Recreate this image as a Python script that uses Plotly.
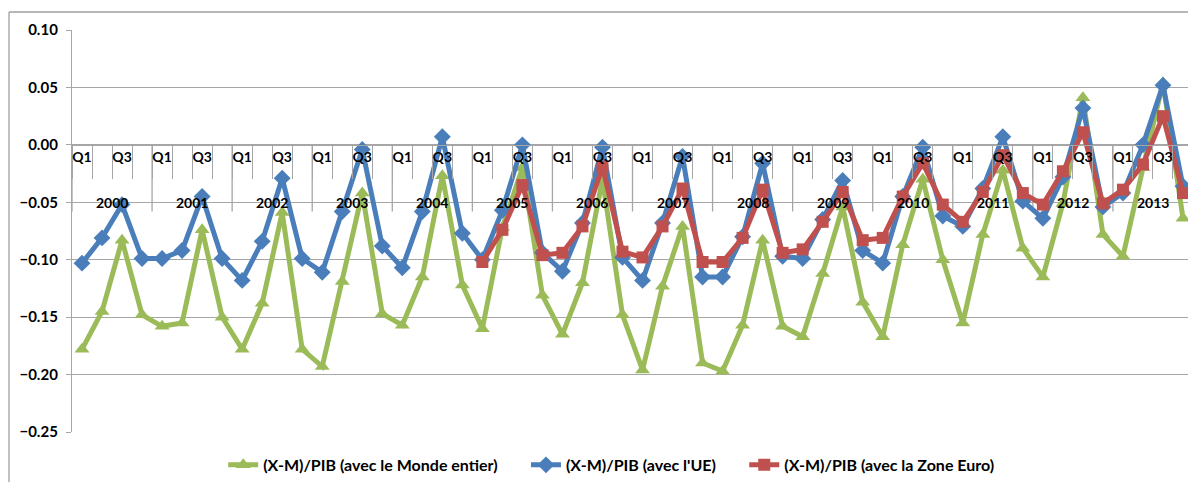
import plotly.graph_objects as go

years = ["2000", "2001", "2002", "2003", "2004", "2005", "2006",
         "2007", "2008", "2009", "2010", "2011", "2012", "2013"]
quarters = ["Q1", "Q2", "Q3", "Q4"]
quarter_labels = ["Q1", "", "Q3", ""]

monde = [-0.178, -0.145, -0.083, -0.148, -0.158, -0.155, -0.074, -0.150,
         -0.178, -0.138, -0.059, -0.178, -0.193, -0.119, -0.042, -0.147,
         -0.157, -0.115, -0.027, -0.122, -0.160, -0.072, -0.020, -0.131,
         -0.165, -0.120, -0.030, -0.148, -0.196, -0.123, -0.071, -0.190,
         -0.197, -0.157, -0.083, -0.158, -0.167, -0.112, -0.054, -0.137,
         -0.167, -0.087, -0.030, -0.100, -0.155, -0.078, -0.022, -0.090,
         -0.115, -0.051, 0.041, -0.078, -0.097, -0.020, 0.054, -0.064]

ue = [-0.103, -0.081, -0.052, -0.099, -0.099, -0.092, -0.045, -0.099,
      -0.118, -0.084, -0.029, -0.099, -0.111, -0.058, -0.004, -0.088,
      -0.107, -0.058, 0.007, -0.077, -0.100, -0.057, 0.000, -0.094,
      -0.110, -0.068, -0.002, -0.098, -0.118, -0.068, -0.010, -0.115,
      -0.115, -0.080, -0.016, -0.097, -0.099, -0.065, -0.031, -0.092,
      -0.103, -0.045, -0.002, -0.062, -0.071, -0.038, 0.007, -0.049,
      -0.064, -0.028, 0.032, -0.054, -0.042, 0.000, 0.052, -0.036]

zone_euro = [None, None, None, None, None, None, None, None,
             None, None, None, None, None, None, None, None,
             None, None, None, None, -0.102, -0.074, -0.035, -0.096,
             -0.094, -0.071, -0.019, -0.093, -0.098, -0.071, -0.038, -0.102,
             -0.102, -0.081, -0.039, -0.094, -0.091, -0.067, -0.041, -0.083,
             -0.081, -0.045, -0.016, -0.052, -0.067, -0.041, -0.009, -0.042,
             -0.052, -0.023, 0.011, -0.051, -0.039, -0.017, 0.025, -0.042]

yticks = [0.10, 0.05, 0.00, -0.05, -0.10, -0.15, -0.20, -0.25]

series_names = ["(X-M)/PIB (avec le Monde entier)",
                "(X-M)/PIB (avec l'UE)",
                "(X-M)/PIB (avec la Zone Euro)"]

categories = [y + " " + q for y in years for q in quarters]
ticktext = [quarter_labels[i % 4] for i in range(len(categories))]

GREEN = "#9bbb59"
BLUE = "#4a7ebb"
RED = "#c0504d"
GRID = "#a6a6a6"
FONT = "Lato"
PAD = "\u00a0" * 6

fig = go.Figure()
fig.add_trace(go.Scatter(
    x=categories, y=monde, mode="lines+markers",
    name=series_names[0] + PAD,
    line=dict(color=GREEN, width=5),
    marker=dict(symbol="triangle-up", size=13, color=GREEN)))
fig.add_trace(go.Scatter(
    x=categories, y=ue, mode="lines+markers",
    name=series_names[1] + PAD,
    line=dict(color=BLUE, width=5),
    marker=dict(symbol="diamond", size=13, color=BLUE)))
fig.add_trace(go.Scatter(
    x=categories, y=zone_euro, mode="lines+markers",
    name=series_names[2],
    line=dict(color=RED, width=5),
    marker=dict(symbol="square", size=12, color=RED)))

ymin, ymax = -0.25, 0.10
zero_pos = (0 - ymin) / (ymax - ymin)

annotations = []
shapes = []
for k, yr in enumerate(years):
    annotations.append(dict(
        x=4 * k + 1.5, y=-0.05, xref="x", yref="y", text=yr, showarrow=False,
        font=dict(family=FONT, size=14, color="black", weight="bold"),
        yanchor="middle"))
    shapes.append(dict(type="line", xref="x", yref="y",
                       x0=4 * k - 0.5, x1=4 * k - 0.5, y0=0, y1=-0.058,
                       line=dict(color=GRID, width=1.3), layer="below"))
shapes.append(dict(type="line", xref="x", yref="y",
                   x0=len(categories) - 0.5, x1=len(categories) - 0.5,
                   y0=0, y1=-0.058, line=dict(color=GRID, width=1.3),
                   layer="below"))
shapes.append(dict(type="line", xref="paper", yref="paper",
                   x0=-0.0562, x1=-0.0562, y0=-0.2, y1=1.0448,
                   line=dict(color="#a0a0a0", width=1.3)))
shapes.append(dict(type="line", xref="paper", yref="paper",
                   x0=-0.0562, x1=1.1, y0=1.0448, y1=1.0448,
                   line=dict(color="#a0a0a0", width=1.3)))

fig.update_layout(
    width=1188, height=474,
    margin=dict(l=64, r=3, t=22, b=50, autoexpand=False),
    paper_bgcolor="white", plot_bgcolor="white",
    font=dict(family=FONT, size=14, color="black"),
    showlegend=True,
    legend=dict(orientation="h", x=0.481, y=-0.082, xanchor="center",
                yanchor="middle", font=dict(size=16, weight="bold"),
                itemwidth=30, tracegroupgap=0, bgcolor="rgba(0,0,0,0)"),
    annotations=annotations,
    shapes=shapes,
    xaxis=dict(
        type="category", categoryorder="array", categoryarray=categories,
        range=[-0.5, len(categories) - 0.5], automargin=False,
        anchor="free", position=zero_pos,
        showline=True, linecolor=GRID, linewidth=1.3,
        showgrid=False, zeroline=False,
        tickmode="array", tickvals=categories, ticktext=ticktext,
        tickson="boundaries", ticks="outside", ticklen=33,
        tickcolor=GRID, tickwidth=1.3, ticklabelstandoff=-1,
        tickangle=0,
        tickfont=dict(family=FONT, size=14, color="black", weight="bold")),
    yaxis=dict(
        range=[ymin, ymax], tickmode="array", tickvals=yticks,
        tickformat=".2f", showgrid=True, gridcolor=GRID, gridwidth=1.3,
        zeroline=False, showline=True, linecolor=GRID, linewidth=1.3,
        ticks="outside", ticklen=5, tickcolor=GRID, automargin=False,
        ticklabelstandoff=5,
        tickfont=dict(family=FONT, size=15, color="black", weight="bold")),
)

fig.write_html("out.html")
